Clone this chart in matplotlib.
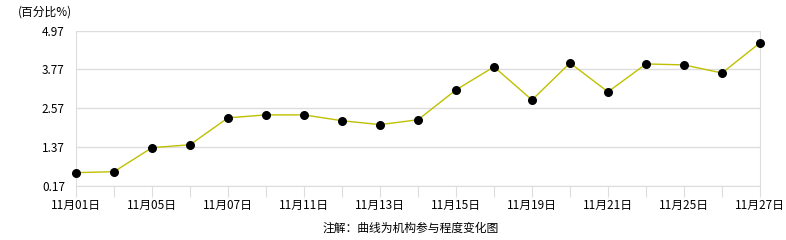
import matplotlib
matplotlib.use("Agg")
import matplotlib.pyplot as plt

plt.rcParams['font.family'] = ['Noto Sans CJK SC', 'DejaVu Sans']

dates = ["11月01日", "11月04日", "11月05日", "11月06日", "11月07日", "11月08日",
         "11月11日", "11月12日", "11月13日", "11月14日", "11月15日", "11月18日",
         "11月19日", "11月20日", "11月21日", "11月22日", "11月25日", "11月26日",
         "11月27日"]
values = [0.59, 0.62, 1.36, 1.45, 2.28, 2.37, 2.37, 2.19, 2.07, 2.22, 3.14, 3.85,
          2.83, 3.97, 3.08, 3.94, 3.91, 3.66, 4.59]
yticks = [0.17, 1.37, 2.57, 3.77, 4.97]
ytick_labels = ["0.17", "1.37", "2.57", "3.77", "4.97"]

fig = plt.figure(figsize=(7.86, 2.4), dpi=100)
ax = fig.add_axes([76/786, 1 - 186.3/240, (760-76)/786, (186.3-30.5)/240])

x = list(range(len(dates)))
ax.plot(x, values, color='#c0c000', linewidth=1, zorder=3)
ax.scatter(x, values, s=30, color='black', zorder=4, clip_on=False)

ax.set_xlim(0, len(dates) - 1)
ax.set_ylim(yticks[0], yticks[-1])
ax.set_yticks(yticks)
ax.set_yticklabels(ytick_labels)
ax.set_xticks(x)
ax.set_xticklabels([d if i % 2 == 0 else "" for i, d in enumerate(dates)])

ax.grid(axis='y', color='#dddddd', linewidth=1)
ax.set_axisbelow(True)
for s in ['left', 'bottom', 'right']:
    ax.spines[s].set_color('#dddddd')
ax.spines['top'].set_visible(False)
ax.tick_params(axis='y', length=0, pad=8, labelsize=8.5, labelcolor='black')
ax.tick_params(axis='x', length=8, color='#dddddd', pad=1, labelsize=8.5, labelcolor='black')

fig.text(18/786, 1 - 12/240, "(百分比%)", fontsize=8.5, ha='left', va='center')
fig.text(411/786, 1 - 228/240, "注解：曲线为机构参与程度变化图", fontsize=8.5, ha='center', va='center')

fig.savefig("out.png", dpi=100)
